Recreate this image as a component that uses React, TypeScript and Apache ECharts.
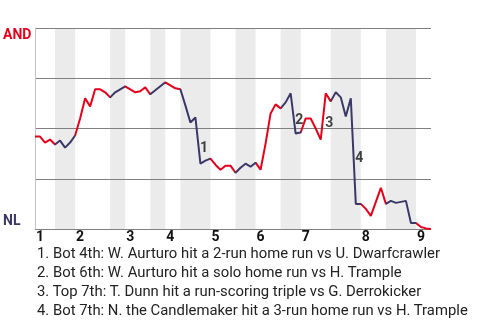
import React, { useEffect, useRef } from "react";
import * as echarts from "echarts";

// Half-inning boundaries in plate-appearance index
const halfInningBounds = [0, 4, 8, 15, 18, 23, 26, 29, 35, 40, 44, 49, 53, 59, 65, 70, 76, 79];
const inningLabels = ["1", "2", "3", "4", "5", "6", "7", "8", "9"];

// AND win probability (%) after each plate appearance
const winProb = [
  46, 46, 43, 44.5, 42, 44, 40.5, 43, 46.5, 55,
  65, 61, 69.5, 69.5, 68, 65.5, 68, 69.5, 71, 69.5,
  68, 68.5, 70.5, 67, 69, 71, 73, 71.5, 70, 69.5,
  61.5, 53, 55.5, 32.5, 34, 35, 32, 29.5, 31.5, 31.5,
  28, 30.5, 32.5, 31, 33, 29.5, 42.5, 57.5, 62, 60,
  63, 67.5, 47.5, 48, 55, 55, 50, 44.5, 67.5, 63.5,
  68, 65.5, 56, 65, 12.5, 12.5, 10, 6.5, 13.5, 20.5,
  12.5, 14, 13, 13.5, 14, 3, 3, 1, 0.3, 0,
];

const eventPA = [33, 52, 58, 64];
const eventLabels = ["1", "2", "3", "4"];
const eventTexts = [
  "1. Bot 4th: W. Aurturo hit a 2-run home run vs U. Dwarfcrawler",
  "2. Bot 6th: W. Aurturo hit a solo home run vs H. Trample",
  "3. Top 7th: T. Dunn hit a run-scoring triple vs G. Derrokicker",
  "4. Bot 7th: N. the Candlemaker hit a 3-run home run vs H. Trample",
];

const RED = "#e4001b";
const NAVY = "#3b3868";

export default function App() {
  const ref = useRef<HTMLDivElement>(null);
  useEffect(() => {
    document.body.style.margin = "0";
    const chart = echarts.init(ref.current!, undefined, { renderer: "svg" });
    const maxX = halfInningBounds[halfInningBounds.length - 1];
    const lineData = winProb.map((v, i) => [i, v / 100]);
    const pieces: any[] = [];
    const bands: any[] = [];
    for (let i = 0; i < halfInningBounds.length - 1; i++) {
      const a = halfInningBounds[i];
      const b = halfInningBounds[i + 1];
      const isTop = i % 2 === 0;
      const last = i === halfInningBounds.length - 2;
      pieces.push(last ? { gte: a, lte: b, color: RED } : { gte: a, lt: b, color: isTop ? RED : NAVY });
      if (!isTop) bands.push([{ xAxis: a }, { xAxis: b }]);
    }
    const inningStarts = halfInningBounds.filter((_, i) => i % 2 === 0 && i < halfInningBounds.length - 1);
    const annData = eventPA.map((k, i) => ({
      value: [k - 0.5, (winProb[k - 1] + winProb[k]) / 200],
      name: eventLabels[i],
    }));
    chart.setOption({
      animation: false,
      grid: { left: 35, top: 28, right: 49, bottom: 91, containLabel: false },
      xAxis: {
        type: "value",
        min: 0,
        max: maxX,
        splitLine: { show: false },
        axisTick: { show: false },
        axisLine: { show: true, lineStyle: { color: "#c4c4c4", width: 1 } },
        axisLabel: {
          customValues: inningStarts,
          formatter: (v: number) => {
            const idx = inningStarts.indexOf(v);
            return idx >= 0 ? inningLabels[idx] : "";
          },
          align: "left",
          margin: 0,
          fontFamily: "Roboto",
          fontWeight: "bold",
          fontSize: 14,
          color: "#111",
          padding: [0, 0, 0, 1],
        },
      },
      yAxis: {
        type: "value",
        min: 0,
        max: 1,
        interval: 0.25,
        z: 2,
        axisTick: { show: false },
        axisLine: { show: true, lineStyle: { color: "#c4c4c4", width: 1 } },
        splitLine: { show: true, lineStyle: { color: "#808080", width: 1 } },
        axisLabel: {
          align: "left",
          margin: 32,
          formatter: (v: number) => (v === 1 ? "{a|AND}" : v === 0 ? "{n|NL}" : ""),
          rich: {
            a: { color: RED, fontWeight: "bold", fontSize: 14, fontFamily: "Roboto", padding: [12, 0, 0, 0] },
            n: { color: NAVY, fontWeight: "bold", fontSize: 14, fontFamily: "Roboto", padding: [0, 0, 19, 0] },
          },
        },
      },
      visualMap: {
        show: false,
        type: "piecewise",
        dimension: 0,
        seriesIndex: 1,
        pieces,
      },
      series: [
        {
          type: "line",
          z: 1,
          data: [],
          silent: true,
          markArea: {
            silent: true,
            itemStyle: { color: "#ebebeb" },
            data: bands,
          },
        },
        {
          type: "line",
          z: 3,
          data: lineData,
          symbol: "none",
          lineStyle: { width: 2 },
          silent: true,
        },
        {
          type: "scatter",
          z: 4,
          data: annData,
          symbol: "circle",
          symbolSize: 1,
          itemStyle: { color: "rgba(0,0,0,0)" },
          silent: true,
          label: {
            show: true,
            position: "inside",
            offset: [6, 6],
            formatter: (p: any) => p.name,
            fontFamily: "Roboto",
            fontWeight: "bold",
            fontSize: 14,
            color: "#111",
          },
        },
      ],
      graphic: eventTexts.map((t, i) => ({
        type: "text",
        x: 37,
        y: 253 + i * 19,
        style: {
          text: t,
          font: "14.85px Roboto",
          fill: "#222",
          verticalAlign: "middle",
          align: "left",
        },
      })),
    });
    return () => chart.dispose();
  }, []);
  return <div ref={ref} style={{ width: 480, height: 320, position: "fixed", left: 0, top: 0 }} />;
}
